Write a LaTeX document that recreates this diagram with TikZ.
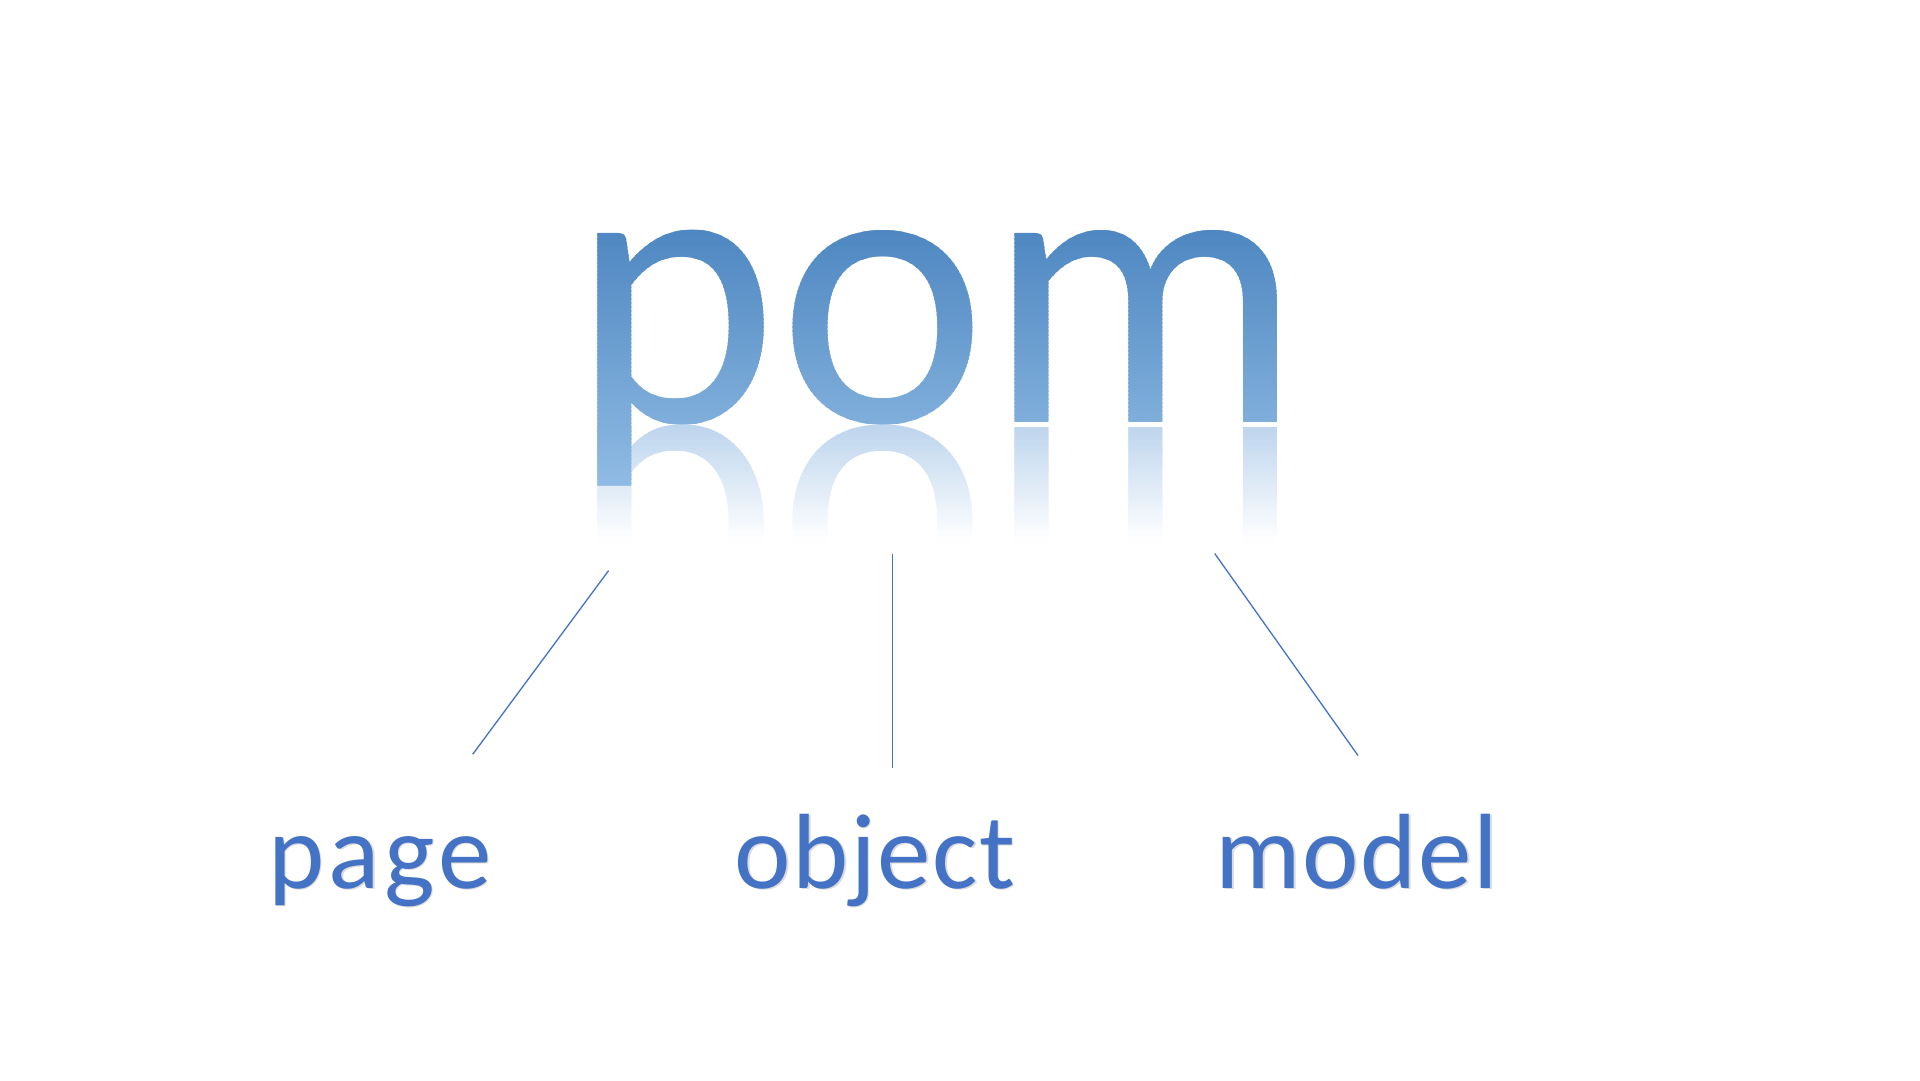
\documentclass[tikz,border=0pt]{standalone}
\usepackage{fontspec}
\setmainfont{Carlito}
\definecolor{pomtop}{RGB}{78,135,193}
\definecolor{pombot}{RGB}{145,188,228}
\definecolor{refltop}{RGB}{188,212,237}
\definecolor{labelblue}{RGB}{68,114,196}
\begin{document}
\begin{tikzpicture}[x=1pt,y=-1pt,
  bigtext/.style={font=\fontsize{396}{470}\selectfont, inner sep=0pt, anchor=base},
  labeltext/.style={font=\fontsize{107}{128}\selectfont\addfontfeatures{LetterSpace=1.5}, inner sep=0pt, anchor=base, text=labelblue},
  labelshadow/.style={font=\fontsize{107}{128}\selectfont\addfontfeatures{LetterSpace=1.5}, inner sep=0pt, anchor=base, text=black!14},
  widespace/.style={font=\fontsize{107}{128}\selectfont\addfontfeatures{LetterSpace=4}},
  conn/.style={draw=labelblue, line width=1.3pt}]
\useasboundingbox (0,0) rectangle (1920,1080);
\fill[white] (0,0) rectangle (1920,1080);

% reflection of "pom"
\foreach \i in {0,...,38} {
  \pgfmathsetmacro\ya{425+3*\i}
  \pgfmathsetmacro\yb{\ya+4}
  \pgfmathtruncatemacro\pc{100*(1-(\i+0.5)/39)}
  \begin{scope}
    \clip (0,\ya) rectangle (1920,\yb);
    \begin{scope}[shift={(937,427)}, yscale=-1]
      \node[bigtext, transform shape, text=refltop!\pc!white] (refl-\i) at (0,0) {pom};
    \end{scope}
  \end{scope}
}

% main "pom" with vertical gradient
\foreach \i in {0,...,68} {
  \pgfmathsetmacro\ya{222+4*\i}
  \pgfmathsetmacro\yb{\ya+5}
  \pgfmathtruncatemacro\pc{max(0,min(100,(490-\ya)/2.6))}
  \begin{scope}
    \clip (0,\ya) rectangle (1920,\yb);
    \node[bigtext, text=pomtop!\pc!pombot] (pom-\i) at (937,422) {pom};
  \end{scope}
}

% labels
\node[labelshadow, widespace] (page-s) at (381.5,889.5) {page};
\node[labelshadow] (object-s) at (876.5,889.5) {object};
\node[labelshadow] (model-s) at (1358.5,889.5) {model};
\node[labeltext, widespace] (page) at (380,888) {page};
\node[labeltext] (object) at (875,888) {object};
\node[labeltext] (model) at (1357,888) {model};

% connectors
\coordinate (pageTop) at (608.6,570.6);
\coordinate (pageEnd) at (472.7,754.3);
\coordinate (objectTop) at (892.7,553.5);
\coordinate (objectEnd) at (892.7,767.8);
\coordinate (modelTop) at (1214.7,553.5);
\coordinate (modelEnd) at (1358,755.5);
\draw[conn] (pageTop) -- (pageEnd);
\draw[conn] (objectTop) -- (objectEnd);
\draw[conn] (modelTop) -- (modelEnd);
\end{tikzpicture}
\end{document}
